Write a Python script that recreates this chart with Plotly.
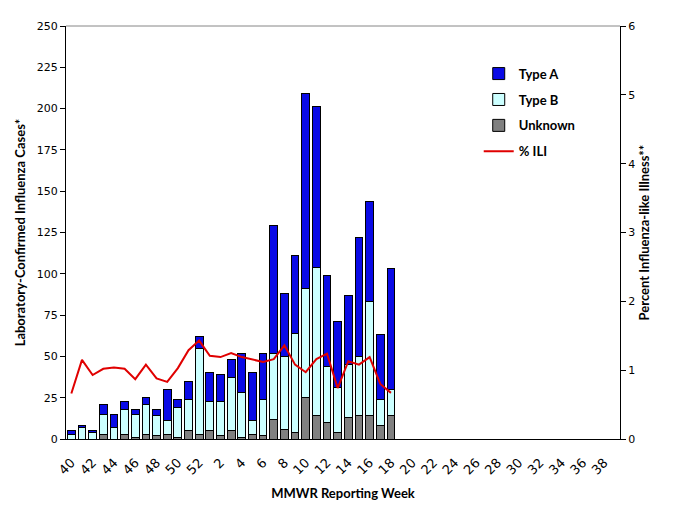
import plotly.graph_objects as go

# MMWR weeks 40..52 then 1..39
WEEKS = [str(w) for w in list(range(40, 53)) + list(range(1, 40))]
TICK_WEEKS = WEEKS[::2]

# counts for weeks 40 .. 18 (31 weeks with data)
type_a = [2, 1, 1, 6, 8, 5, 3, 4, 4, 19, 5, 11, 7,
          17, 16, 11, 24, 29, 28,
          77, 38, 47, 118, 97, 55, 40, 42, 72, 61, 39, 73]
type_b = [3, 7, 4, 12, 7, 15, 14, 18, 12, 8, 18, 19, 52,
          18, 21, 32, 27, 8, 22,
          40, 44, 60, 66, 90, 34, 27, 32, 36, 69, 16, 16]
unknown = [0, 0, 0, 3, 0, 3, 1, 3, 2, 3, 1, 5, 3,
           5, 2, 5, 1, 3, 2,
           12, 6, 4, 25, 14, 10, 4, 13, 14, 14, 8, 14]
pct_ili = [0.66, 1.15, 0.93, 1.02, 1.04, 1.02, 0.87, 1.08, 0.88, 0.83, 1.03, 1.29, 1.43,
           1.21, 1.19, 1.25, 1.19, 1.15, 1.12,
           1.16, 1.36, 1.08, 0.97, 1.16, 1.24, 0.74, 1.13, 1.08, 1.19, 0.80, 0.67]

x_data = WEEKS[:len(type_a)]

TICK_FONT = dict(family="DejaVu Sans", size=11, color="#000000")
TITLE_FONT = dict(family="Lato", size=13, color="#000000", weight="bold")
BAR_LINE = dict(color="#000000", width=1)

fig = go.Figure()
fig.add_trace(go.Bar(x=x_data, y=unknown, name="Unknown", marker=dict(color="#808080", line=BAR_LINE),
                     legendgroup="u", legendrank=3))
fig.add_trace(go.Bar(x=x_data, y=type_b, name="Type B", marker=dict(color="#CCFFFF", line=BAR_LINE),
                     legendgroup="b", legendrank=2))
fig.add_trace(go.Bar(x=x_data, y=type_a, name="Type A", marker=dict(color="#0A0AE6", line=BAR_LINE),
                     legendgroup="a", legendrank=1))
fig.add_trace(go.Scatter(x=x_data, y=pct_ili, name="% ILI", mode="lines", yaxis="y2",
                         line=dict(color="#E00000", width=2), legendgroup="i", legendrank=4))

fig.update_layout(
    width=678, height=510,
    margin=dict(l=55, r=66, t=18, b=79),
    paper_bgcolor="#FFFFFF", plot_bgcolor="#FFFFFF",
    barmode="stack", bargap=0.27,
    showlegend=True,
    legend=dict(x=0.745, y=0.921, xanchor="left", yanchor="top",
                font=dict(family="Lato", size=13, color="#000000", weight="bold"),
                traceorder="grouped", tracegroupgap=6, itemwidth=30,
                bgcolor="rgba(0,0,0,0)"),
    xaxis=dict(type="category", categoryorder="array", categoryarray=WEEKS,
               range=[-0.5, len(WEEKS) - 0.5],
               tickmode="array", tickvals=TICK_WEEKS, ticktext=TICK_WEEKS,
               tickangle=-45, tickfont=dict(family="DejaVu Sans", size=13, color="#000000"),
               ticklabelstandoff=10,
               showline=True, linecolor="#000000", linewidth=1, ticks="",
               showgrid=False, zeroline=False,
               title=dict(text="MMWR Reporting Week", font=TITLE_FONT, standoff=12)),
    yaxis=dict(range=[0, 250], dtick=25, tickfont=TICK_FONT,
               showline=True, linecolor="#000000", linewidth=1,
               ticks="outside", ticklen=5, tickcolor="#000000",
               showgrid=False, zeroline=False,
               title=dict(text="Laboratory-Confirmed Influenza Cases*", font=TITLE_FONT, standoff=8)),
    yaxis2=dict(range=[0, 6], dtick=1, overlaying="y", side="right", tickfont=TICK_FONT,
                showline=True, linecolor="#000000", linewidth=1,
                ticks="outside", ticklen=5, tickcolor="#000000",
                showgrid=False, zeroline=False,
                title=dict(text="Percent Influenza-like Illness**", font=TITLE_FONT, standoff=5)),
)

# gray top border of the plot area
fig.add_shape(type="line", xref="paper", yref="paper", x0=0, x1=1, y0=1, y1=1,
              line=dict(color="#868686", width=1))

fig.write_html("out.html")
